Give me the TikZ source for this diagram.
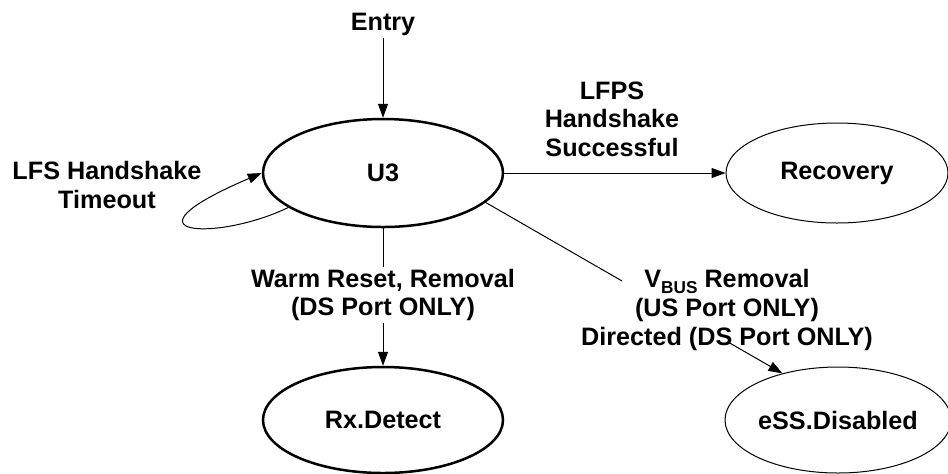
\documentclass[tikz,border=0pt]{standalone}
\usepackage{fontspec}
\setmainfont{Liberation Sans}
\usetikzlibrary{arrows.meta, shapes.geometric, backgrounds}

\begin{document}
\begin{tikzpicture}[x=0.5pt, y=-0.5pt, >={Triangle[length=7pt, width=5pt]},
  font=\bfseries\fontsize{12.6}{14.3}\selectfont,
  state/.style={ellipse, draw, line width=1.25pt, inner sep=0pt},
  thinstate/.style={ellipse, draw, line width=0.5pt, inner sep=0pt},
  lbl/.style={align=center, inner sep=1pt},
  tr/.style={->, line width=0.5pt}]
\useasboundingbox (0,0) rectangle (948,473);
% 状态
\node[state, minimum width=120pt, minimum height=54pt] (u3) at (383,173) {U3};
\node[thinstate, minimum width=111pt, minimum height=50pt] (rec) at (837,173) {Recovery};
\node[state, minimum width=120pt, minimum height=53pt] (rx) at (383,420) {Rx.Detect};
\node[thinstate, minimum width=113pt, minimum height=53pt] (ess) at (838,420) {eSS.Disabled};
% 标注
\node[lbl] (entry) at (383,24) {Entry};
\node[lbl] (lfps) at (612,119) {LFPS\\Handshake\\Successful};
\node[lbl] (lfs) at (107,185) {LFS Handshake\\Timeout};
\node[lbl, fill=white] (warm) at (383,295) {Warm Reset, Removal\\(DS Port ONLY)};
\node[lbl] (vbus) at (727,310) {V\raisebox{-0.45ex}{\fontsize{8.6}{10}\selectfont BUS} Removal\\(US Port ONLY)\\Directed (DS Port ONLY)};
% 转移
\begin{scope}[on background layer]
\draw[tr] (entry) -- (u3);
\draw[tr] (u3) -- (rec);
\draw[tr] (u3) -- (rx);
\draw[tr] (u3.200) .. controls +(-70,34) and +(-150,64) .. (u3.west);
\draw[tr] (u3.-16) -- (ess.140);
\fill[white] (622,262) rectangle (885,343);
\end{scope}
\end{tikzpicture}
\end{document}
